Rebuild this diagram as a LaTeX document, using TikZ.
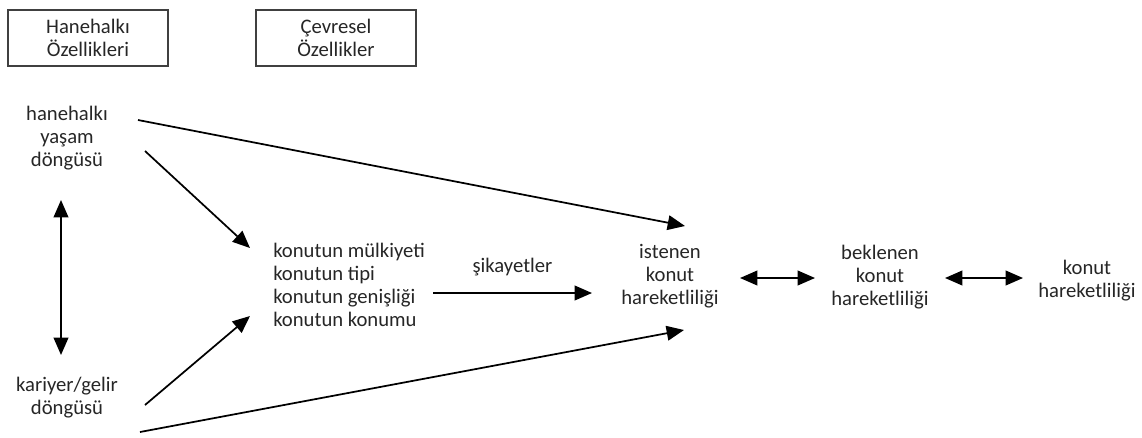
\documentclass[tikz,border=0pt]{standalone}
\usepackage{fontspec}
\setmainfont{Carlito}
\usetikzlibrary{arrows.meta}
\begin{document}
\begin{tikzpicture}[x=0.75pt,y=-0.75pt,
  txt/.style={font=\fontsize{15.5pt}{17.3pt}\selectfont, align=center, inner sep=0pt, text=black!85},
  hdr/.style={txt, draw=black!75, line width=0.9pt, minimum width=120pt, minimum height=42pt},
  arr/.style={line width=1.3pt, -{Triangle[length=13pt,width=11pt]}},
  darr/.style={line width=1.3pt, {Triangle[length=13pt,width=11pt]}-{Triangle[length=13pt,width=11pt]}}]
\useasboundingbox (0,0) rectangle (1142,437);
% header boxes
\node[hdr] (b1) at (88,38) {Hanehalkı\\Özellikleri};
\node[hdr] (b2) at (336,38) {Çevresel\\Özellikler};
% text nodes
\node[txt] (hy) at (67,138) {hanehalkı\\yaşam\\döngüsü};
\node[txt] (kg) at (67,398) {kariyer/gelir\\döngüsü};
\node[txt, align=left, anchor=west] (kon) at (273,285) {konutun mülkiyeti\\konutun tipi\\konutun genişliği\\konutun konumu};
\node[txt] (ist) at (670,276) {istenen\\konut\\hareketliliği};
\node[txt] (bek) at (880,277) {beklenen\\konut\\hareketliliği};
\node[txt] (kh) at (1087,281) {konut\\hareketliliği};
% connector end points
\coordinate (hy1) at (138,120);
\coordinate (hy2) at (145,151);
\coordinate (kg1) at (145,405);
\coordinate (kg2) at (140,432);
\coordinate (kon1) at (250,248);
\coordinate (kon2) at (250,316);
\coordinate (ist1) at (685,226);
\coordinate (ist2) at (684,330);
\coordinate (kone) at (433,293);
\coordinate (istw) at (592,293);
\coordinate (hyb) at (61,200);
\coordinate (kgt) at (61,355);
\coordinate (iste) at (740,278);
\coordinate (bekw) at (815,278);
\coordinate (beke) at (945,278);
\coordinate (khw) at (1023,278);
% connectors
\draw[arr] (hy1) -- (ist1);
\draw[arr] (hy2) -- (kon1);
\draw[arr] (kg1) -- (kon2);
\draw[arr] (kg2) -- (ist2);
\draw[arr] (kone) -- node[txt, above=12pt] (sk) {şikayetler} (istw);
\draw[darr] (hyb) -- (kgt);
\draw[darr] (iste) -- (bekw);
\draw[darr] (beke) -- (khw);
\end{tikzpicture}
\end{document}
